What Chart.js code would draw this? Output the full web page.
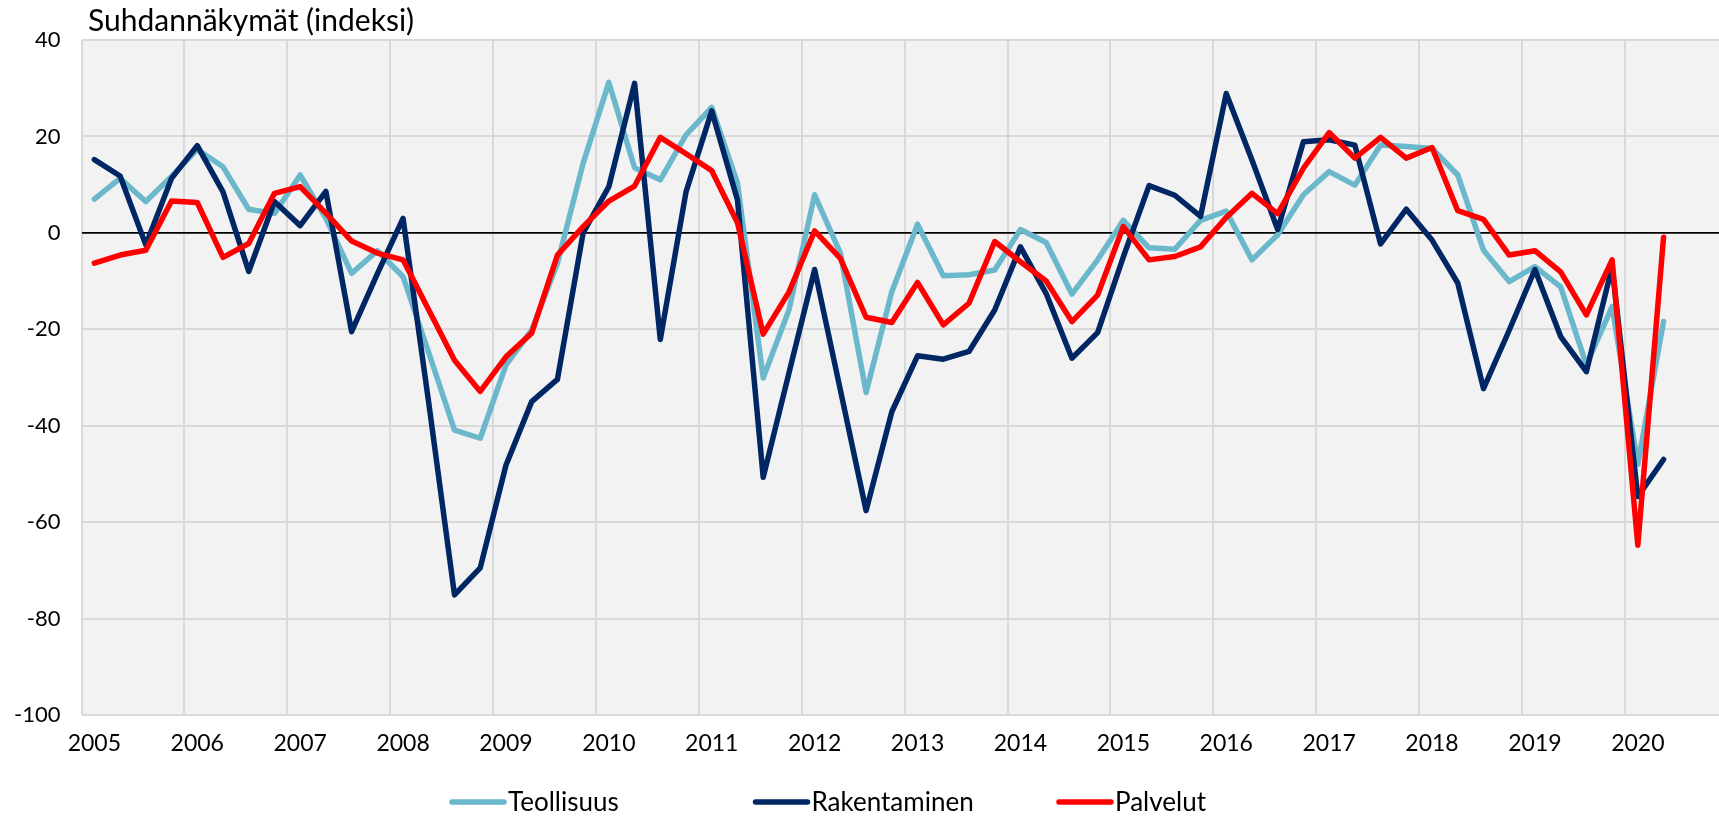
<!DOCTYPE html>
<html>
<head>
<meta charset="utf-8">
<script src="https://cdn.jsdelivr.net/npm/chart.js@4/dist/chart.umd.min.js"></script>
<style>
  html, body { margin: 0; padding: 0; background: #fff; overflow: hidden; }
  #wrap { position: relative; width: 1730px; height: 816px; }
</style>
</head>
<body>
<div id="wrap"><canvas id="chart"></canvas></div>
<script>
// ==================== DATA ====================
const years = [2005, 2006, 2007, 2008, 2009, 2010, 2011, 2012, 2013, 2014, 2015, 2016, 2017, 2018, 2019, 2020];
const yTicks = [40, 20, 0, -20, -40, -60, -80, -100];

const teollisuus = [
  7.0, 11.3, 6.5, 11.7, 17.3, 13.7, 4.9, 4.0,
  12.0, 3.0, -8.4, -3.7, -9.1, -24.9, -40.9, -42.6,
  -27.4, -20.2, -6.3, 14.4, 31.2, 13.5, 11.0, 20.3,
  26.0, 10.3, -30.1, -16.0, 7.9, -4.2, -33.1, -12.2,
  1.8, -8.9, -8.7, -7.7, 0.7, -2.0, -12.7, -5.6,
  2.6, -3.1, -3.4, 2.6, 4.5, -5.6, -0.4, 7.9,
  12.7, 9.9, 18.2, 17.9, 17.5, 12.0, -3.6, -10.1,
  -7.0, -11.2, -27.4, -15.3, -48.0, -18.4
];
const rakentaminen = [
  15.2, 11.8, -2.5, 11.3, 18.1, 8.5, -8.0, 6.5,
  1.5, 8.6, -20.5, -8.5, 3.0, -35.3, -75.1, -69.5,
  -48.2, -35.0, -30.4, 0.0, 9.6, 31.0, -22.1, 8.5,
  25.3, 6.8, -50.7, -29.1, -7.6, -32.6, -57.6, -37.1,
  -25.5, -26.2, -24.6, -16.0, -2.9, -12.6, -26.0, -20.7,
  -5.0, 9.8, 7.8, 3.4, 28.9, 15.1, 0.7, 18.9,
  19.3, 18.2, -2.3, 4.9, -1.5, -10.4, -32.3, -20.2,
  -7.6, -21.5, -28.8, -7.0, -54.7, -47.0
];
const palvelut = [
  -6.3, -4.6, -3.6, 6.6, 6.3, -5.1, -2.2, 8.2,
  9.6, 4.1, -1.7, -4.2, -5.6, -16.0, -26.4, -32.9,
  -25.7, -20.8, -4.6, 1.3, 6.6, 9.7, 19.8, 16.4,
  12.9, 2.1, -21.0, -12.3, 0.4, -5.3, -17.5, -18.6,
  -10.3, -19.1, -14.6, -1.8, -6.0, -10.0, -18.4, -12.9,
  1.3, -5.6, -4.9, -2.9, 3.2, 8.2, 4.0, 13.4,
  20.8, 15.5, 19.8, 15.5, 17.7, 4.6, 2.8, -4.6,
  -3.7, -8.1, -17.0, -5.6, -64.8, -0.9
];

const seriesNames = ["Teollisuus", "Rakentaminen", "Palvelut"];
const seriesColors = ["#6bb8cc", "#002664", "#ff0000"];
const titleText = "Suhdannäkymät (indeksi)";

// one category per quarter, year shown on Q1
const labels = years.flatMap(y => [String(y), "", "", ""]);

const FONT = "Lato, 'Open Sans', sans-serif";

// ==================== PLUGINS ====================
const plotBg = {
  id: "plotBg",
  beforeDraw(chart) {
    const { ctx, chartArea: a } = chart;
    ctx.save();
    ctx.fillStyle = "#f2f2f2";
    ctx.fillRect(a.left, a.top, a.right - a.left, a.bottom - a.top);
    ctx.restore();
  }
};

const titleAndLegend = {
  id: "titleAndLegend",
  afterDraw(chart) {
    const { ctx } = chart;
    ctx.save();
    ctx.fillStyle = "#000";
    ctx.textBaseline = "middle";
    ctx.font = "30px " + FONT;
    ctx.fillText(titleText, 88, 21);

    // legend: equal-width slots like the office chart
    ctx.font = "26px " + FONT;
    chart.data.datasets.forEach((ds, i) => {
      const x = 452 + i * 303.5;
      const y = 802;
      ctx.strokeStyle = ds.borderColor;
      ctx.lineWidth = 5.5;
      ctx.lineCap = "round";
      ctx.beginPath();
      ctx.moveTo(x, y);
      ctx.lineTo(x + 52, y);
      ctx.stroke();
      ctx.fillStyle = "#000";
      ctx.fillText(ds.label, x + 56, y + 1);
    });
    ctx.restore();
  }
};

// ==================== CHART ====================
const series = [teollisuus, rakentaminen, palvelut];

new Chart(document.getElementById("chart"), {
  type: "line",
  data: {
    labels,
    datasets: series.map((d, i) => ({
      label: seriesNames[i],
      data: d,
      borderColor: seriesColors[i],
      backgroundColor: seriesColors[i],
      borderWidth: 5.5,
      pointRadius: 0,
      tension: 0,
      borderJoinStyle: "round",
      borderCapStyle: "round",
      order: 3 - i
    }))
  },
  options: {
    responsive: true,
    maintainAspectRatio: false,
    animation: false,
    layout: { padding: { top: 40, left: 0, right: 0, bottom: 0 } },
    plugins: {
      legend: { display: false },
      tooltip: { enabled: false }
    },
    scales: {
      x: {
        type: "category",
        offset: true,
        afterFit: s => { s.height = 101; },
        grid: {
          offset: true,
          drawTicks: false,
          lineWidth: 2,
          color: c => (c.index % 4 === 0 ? "#d9d9d9" : "rgba(0,0,0,0)")
        },
        border: { display: false },
        ticks: {
          autoSkip: false,
          maxRotation: 0,
          minRotation: 0,
          padding: 15,
          color: "#000",
          font: { family: FONT, size: 23 }
        }
      },
      y: {
        min: yTicks[yTicks.length - 1],
        max: yTicks[0],
        afterFit: s => { s.width = 81.5; },
        afterBuildTicks: s => { s.ticks = yTicks.map(v => ({ value: v })); },
        grid: {
          drawTicks: false,
          lineWidth: c => (c.tick && c.tick.value === 0 ? 1.75 : 2),
          color: c => (c.tick && c.tick.value === 0 ? "#000" : "#d9d9d9")
        },
        border: { display: false },
        ticks: {
          padding: 21,
          color: "#000",
          font: { family: FONT, size: 22 }
        }
      }
    }
  },
  plugins: [plotBg, titleAndLegend]
});
</script>
</body>
</html>
